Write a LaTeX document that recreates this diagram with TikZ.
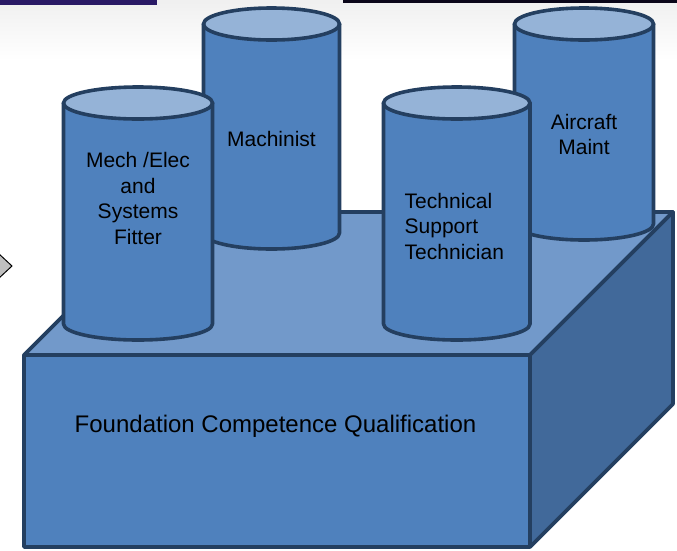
\documentclass[tikz,border=0pt]{standalone}
\usepackage{fontspec}
\setmainfont{Liberation Sans}
\definecolor{outline}{HTML}{243F60}
\definecolor{frontblue}{HTML}{4F81BD}
\definecolor{topblue}{HTML}{7299CA}
\definecolor{sideblue}{HTML}{41699A}
\definecolor{captop}{HTML}{95B3D7}
\definecolor{barpurple}{HTML}{2A1A66}
\tikzset{
  face/.style={draw=outline,line width=3.6pt,line join=round},
  pillarbody/.style={draw=outline,line width=3.6pt,line join=round,fill=frontblue},
  pillartop/.style={draw=outline,line width=3.6pt,fill=captop},
  label/.style={font=\fontsize{21}{25.5}\selectfont,text=black,inner sep=0pt,align=center}
}
% a standing cylinder: left x, right x, y of the top ellipse centre, y where the sides end
\newcommand\pillar[4]{%
  \pgfmathsetmacro\prx{(#2-#1)/2}
  \pgfmathsetmacro\pcx{(#1+#2)/2}
  \draw[pillarbody] (#1,#3) -- (#1,#4)
     arc[start angle=180,end angle=0,x radius=\prx,y radius=16] -- (#2,#3) -- cycle;
  \draw[pillartop] (\pcx,#3) ellipse[x radius=\prx,y radius=16];
}
\begin{document}
\begin{tikzpicture}[x=1pt,y=-1pt]
\useasboundingbox (0,0) rectangle (677,550);
% pale header band and its bars
\shade[top color=black!6,bottom color=white] (0,0) rectangle (677,60);
\fill[barpurple] (0,0) rectangle (157,5);
\fill[black!75!barpurple] (343,0) rectangle (677,2.5);
% edge of the arrow at the left
\draw[fill=black!25,line width=1pt] (-2,253) -- (12,266) -- (-2,279);
% the base block
\coordinate (fl) at (24,355);
\coordinate (fr) at (530,355);
\coordinate (bl) at (167,212);
\coordinate (br) at (673,212);
\coordinate (flb) at (24,547);
\coordinate (frb) at (530,547);
\coordinate (brb) at (673,404);
\draw[face,fill=frontblue] (fl) -- (fr) -- (frb) -- (flb) -- cycle;
\draw[face,fill=topblue] (fl) -- (bl) -- (br) -- (fr) -- cycle;
\draw[face,fill=sideblue] (fr) -- (br) -- (brb) -- (frb) -- cycle;
% pillars at the back
\pillar{203.5}{339.5}{24}{233}
\pillar{514.5}{653.5}{24}{224}
% pillars at the front
\pillar{63.5}{212.5}{103}{324}
\pillar{383.5}{530}{103}{324}
% labels
\node[label] (mech) at (138,198.5) {Mech /Elec\\and\\Systems\\Fitter};
\node[label] (mach) at (271.5,139) {Machinist};
\node[label,align=left,anchor=west] (tech) at (404.5,226) {Technical\\Support\\Technician};
\node[label] (air) at (584,134.5) {Aircraft\\Maint};
\node[label,font=\fontsize{24}{28}\selectfont] (found) at (275.5,426) {Foundation Competence Qualification};
\end{tikzpicture}
\end{document}
